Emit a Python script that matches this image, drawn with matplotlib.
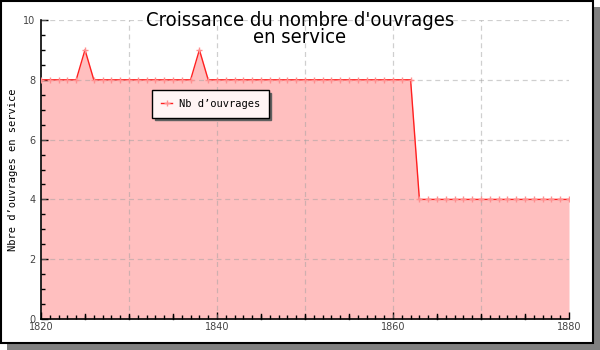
import matplotlib
matplotlib.use("Agg")
import matplotlib.pyplot as plt
from matplotlib.patches import Rectangle
from matplotlib.ticker import MultipleLocator, FixedLocator

years = list(range(1820, 1881))
values = [8, 8, 8, 8, 8, 9, 8, 8, 8, 8,
          8, 8, 8, 8, 8, 8, 8, 8, 9, 8,
          8, 8, 8, 8, 8, 8, 8, 8, 8, 8,
          8, 8, 8, 8, 8, 8, 8, 8, 8, 8,
          8, 8, 8, 4, 4, 4, 4, 4, 4, 4,
          4, 4, 4, 4, 4, 4, 4, 4, 4, 4, 4]
title = "Croissance du nombre d'ouvrages\nen service"
ylabel = "Nbre d\u2019ouvrages en service"
series_label = "Nb d\u2019ouvrages"
xticks = [1820, 1840, 1860, 1880]
yticks = [0, 2, 4, 6, 8, 10]

W, H = 600, 350
fig = plt.figure(figsize=(6, 3.5), dpi=100)
fig.patch.set_facecolor("white")

# shadow + frame
fig.patches.append(Rectangle((7 / W, 0), (W - 7) / W, (H - 7) / H,
                             transform=fig.transFigure, facecolor="#808080",
                             edgecolor="none", zorder=0))
fig.patches.append(Rectangle((1 / W, 7 / H), (W - 8) / W, (H - 8) / H,
                             transform=fig.transFigure, facecolor="white",
                             edgecolor="black", linewidth=1.5, zorder=1))

ax = fig.add_axes([41 / W, (H - 319) / H, (569 - 41) / W, (319 - 20) / H])
ax.set_facecolor("none")
ax.set_zorder(2)

ax.fill_between(years, values, 0, color="#FFBFBF", linewidth=0, zorder=1)
ax.plot(years, values, color="#FF2020", linewidth=1.0, zorder=3,
        marker="+", markersize=4, markeredgecolor="#FF9090",
        markeredgewidth=1.0, label=series_label)

ax.set_xlim(1820, 1880)
ax.set_ylim(0, 10)

for x in range(1830, 1880, 10):
    ax.axvline(x, color="#A0A0A0", alpha=0.5, linestyle=(0, (4, 3)),
               linewidth=0.9, zorder=2)
for y in range(2, 11, 2):
    ax.axhline(y, color="#A0A0A0", alpha=0.5, linestyle=(0, (4, 3)),
               linewidth=0.9, zorder=2)

for s in ["top", "right"]:
    ax.spines[s].set_visible(False)
ax.spines["left"].set_linewidth(1.2)
ax.spines["bottom"].set_linewidth(1.2)

ax.xaxis.set_major_locator(FixedLocator(xticks))
ax.xaxis.set_minor_locator(MultipleLocator(1))
ax.yaxis.set_major_locator(FixedLocator(yticks))
ax.yaxis.set_minor_locator(MultipleLocator(0.5))
ax.tick_params(axis="both", which="major", direction="in", length=5,
               width=1, labelsize=7, labelcolor="#444444", pad=2)
ax.tick_params(axis="both", which="minor", direction="in", length=3, width=1)
ax.tick_params(axis="y", pad=4)
for x in range(1825, 1880, 5):
    if x not in xticks:
        ax.plot([x, x], [0, 0.17], color="black", linewidth=1,
                zorder=4, clip_on=False)

ax.set_ylabel(ylabel, family="DejaVu Sans Mono", fontsize=7.5, labelpad=4)

fig.text(0.5, 1 - 29 / H, title, ha="center", va="center",
         fontsize=14.5, family="DejaVu Sans", fontstretch="condensed",
         linespacing=0.85, zorder=5)

leg = ax.legend(loc="upper left", bbox_to_anchor=((152 - 41) / 528, (319 - 90) / 299),
                frameon=True, fancybox=False, shadow={"color": "#606060", "alpha": 1},
                prop={"family": "DejaVu Sans Mono", "size": 7.5},
                borderpad=0.85, handlelength=1.1, handletextpad=0.6, borderaxespad=0)
leg.get_frame().set_edgecolor("black")
leg.get_frame().set_linewidth(1.0)
leg.get_frame().set_facecolor("#FFF4F4")
leg.get_frame().set_alpha(1)

fig.savefig("out.png", dpi=100)
